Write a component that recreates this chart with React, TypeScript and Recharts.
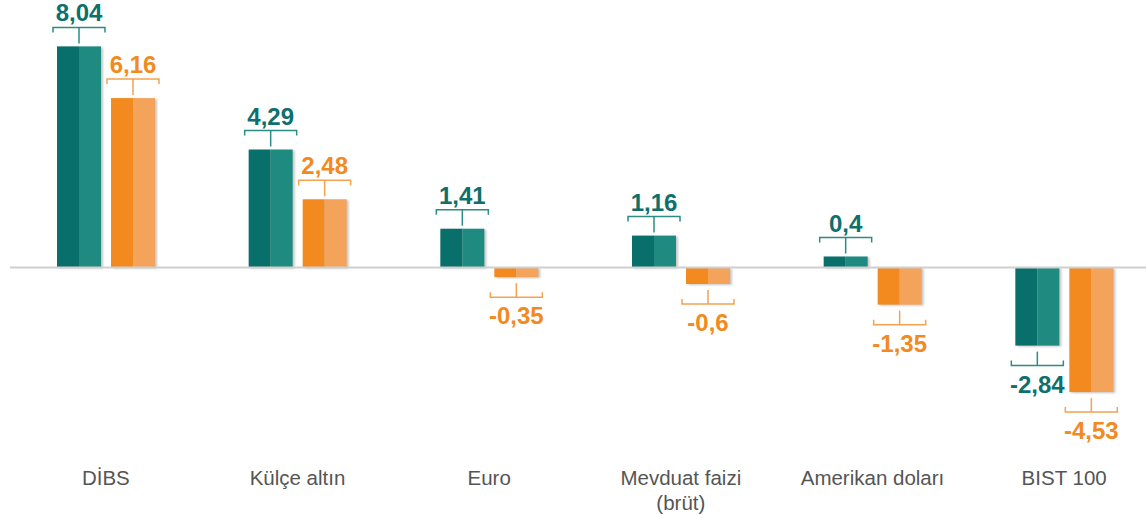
import { BarChart, Bar, XAxis, YAxis, ReferenceLine } from 'recharts'

const categories = ['DİBS', 'Külçe altın', 'Euro', 'Mevduat faizi\n(brüt)', 'Amerikan doları', 'BIST 100']
const tealValues = [8.04, 4.29, 1.41, 1.16, 0.4, -2.84]
const orangeValues = [6.16, 2.48, -0.35, -0.6, -1.35, -4.53]

const data = categories.map((name, i) => ({ name, teal: tealValues[i], orange: orangeValues[i] }))

const FONT = '"Liberation Sans", Arial, Helvetica, sans-serif'

const PALETTE = {
    teal: { dark: '#086f6b', light: '#1e8a80', line: '#2a8c85', text: '#0d706c' },
    orange: { dark: '#f28a1f', light: '#f4a35b', line: '#f5a152', text: '#f28a22' },
}

const fmt = (v: number) => String(v).replace('.', ',')

function TwoToneBar(props: any) {
    const { x, width, payload, seriesKey } = props
    let { y, height } = props
    if (height < 0) {
        y = y + height
        height = -height
    }
    const c = PALETTE[seriesKey as 'teal' | 'orange']
    const value: number = payload[seriesKey]
    const half = width / 2
    const cx = x + half
    const bx1 = x - 4
    const bx2 = x + width + 4
    const fid = `shadow-${seriesKey}`

    let bracket
    if (value >= 0) {
        const by = y - 19
        bracket = (
            <g>
                <path d={`M${bx1},${by + 5} L${bx1},${by} L${bx2},${by} L${bx2},${by + 5}`} fill="none" stroke={c.line} strokeWidth={1.5} />
                <line x1={cx} y1={by} x2={cx} y2={y - 3} stroke={c.line} strokeWidth={1.5} />
                <text x={cx} y={by - 6} textAnchor="middle" fontFamily={FONT} fontWeight="bold" fontSize={24} fill={c.text}>
                    {fmt(value)}
                </text>
            </g>
        )
    } else {
        const bottom = y + height
        const by = bottom + 20
        bracket = (
            <g>
                <path d={`M${bx1},${by - 5} L${bx1},${by} L${bx2},${by} L${bx2},${by - 5}`} fill="none" stroke={c.line} strokeWidth={1.5} />
                <line x1={cx} y1={bottom + 6} x2={cx} y2={by} stroke={c.line} strokeWidth={1.5} />
                <text x={cx} y={by + 27} textAnchor="middle" fontFamily={FONT} fontWeight="bold" fontSize={24} fill={c.text}>
                    {fmt(value)}
                </text>
            </g>
        )
    }

    return (
        <g>
            <defs>
                <filter id={fid} x="-20%" y="-20%" width="140%" height="140%">
                    <feGaussianBlur stdDeviation={1.2} />
                </filter>
            </defs>
            <rect x={x + 2} y={y + 1} width={width} height={height} fill="#000" opacity={0.22} filter={`url(#${fid})`} />
            <rect x={x} y={y} width={half} height={height} fill={c.dark} />
            <rect x={x + half} y={y} width={half} height={height} fill={c.light} />
            {bracket}
        </g>
    )
}

function CategoryTick({ x, y, payload }: any) {
    const lines = String(payload.value).split('\n')
    return (
        <text x={x} y={y + 80} textAnchor="middle" fontFamily={FONT} fontSize={20.5} fill="#555">
            {lines.map((l, i) => (
                <tspan key={i} x={x} dy={i === 0 ? 0 : 25}>
                    {l}
                </tspan>
            ))}
        </text>
    )
}

export default function App() {
    return (
        <div style={{ position: 'absolute', left: 0, top: 0, width: 1146, height: 515, overflow: 'hidden', background: '#fff' }}>
            <BarChart
                width={1160}
                height={515}
                data={data}
                margin={{ top: 20, right: 0, bottom: 0, left: 10 }}
                barSize={44}
                barGap={10}
            >
                <XAxis
                    dataKey="name"
                    axisLine={false}
                    tickLine={false}
                    tickSize={0}
                    tickMargin={0}
                    height={110}
                    interval={0}
                    tick={<CategoryTick />}
                />
                <YAxis hide domain={[-5, 9]} />
                <ReferenceLine y={0} stroke="#cfcfcf" strokeWidth={2} />
                <Bar dataKey="teal" isAnimationActive={false} shape={(p: any) => <TwoToneBar {...p} seriesKey="teal" />} />
                <Bar dataKey="orange" isAnimationActive={false} shape={(p: any) => <TwoToneBar {...p} seriesKey="orange" />} />
            </BarChart>
        </div>
    )
}
